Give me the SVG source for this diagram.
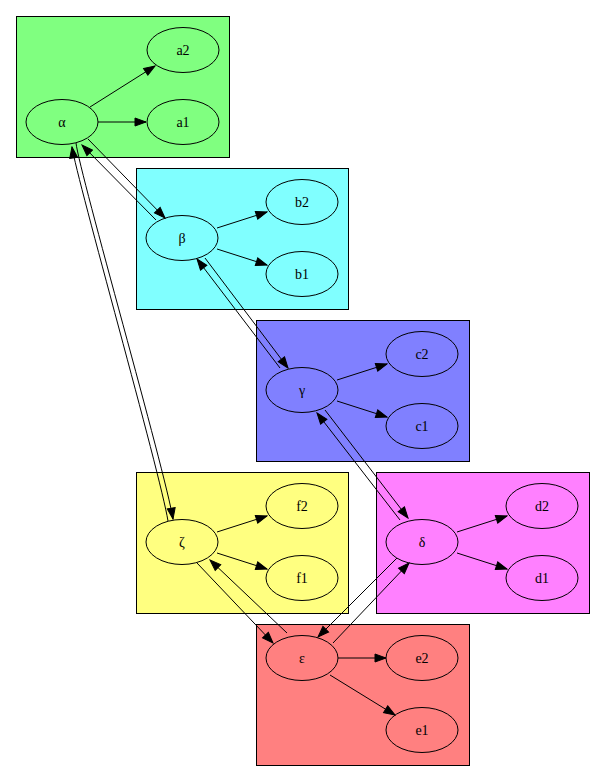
<svg xmlns="http://www.w3.org/2000/svg" width="605" height="781" viewBox="0 0 605 781">
<style>
.cl{stroke:#000;stroke-width:1}
.nd ellipse{stroke:#000;stroke-width:1}
.nd text{font-family:"Liberation Serif","DejaVu Serif",serif;font-size:14px;text-anchor:middle;fill:#000}
.e{fill:none;stroke:#000;stroke-width:1;marker-end:url(#ah)}
.ga{fill:#80ff80}.gb{fill:#80ffff}.gc{fill:#8080ff}.gd{fill:#ff80ff}.ge{fill:#ff8080}.gf{fill:#ffff80}
</style>
<defs>
<marker id="ah" markerUnits="userSpaceOnUse" viewBox="-1 -1 13 10" markerWidth="13" markerHeight="10" refX="11" refY="4" orient="auto">
<path d="M0,0 L11,4 L0,8 Z" fill="#000" stroke="#000" stroke-width="1"/>
</marker>
</defs>
<rect width="605" height="781" fill="#fff"/>
<g id="cluster_a"><rect class="cl ga" x="16.5" y="16.5" width="213" height="141"/></g>
<g id="cluster_b"><rect class="cl gb" x="136.5" y="168.5" width="212" height="141"/></g>
<g id="cluster_c"><rect class="cl gc" x="256.5" y="320.5" width="213" height="141"/></g>
<g id="cluster_f"><rect class="cl gf" x="136.5" y="472.5" width="212" height="141"/></g>
<g id="cluster_d"><rect class="cl gd" x="376.5" y="472.5" width="213" height="141"/></g>
<g id="cluster_e"><rect class="cl ge" x="256.5" y="624.5" width="213" height="141"/></g>

<g id="alpha" class="nd"><ellipse class="ga" cx="62" cy="122" rx="36" ry="22.5"/><text x="62" y="127">α</text></g>
<g id="a2" class="nd"><ellipse class="ga" cx="183" cy="50" rx="36" ry="22.5"/><text x="183" y="55">a2</text></g>
<g id="a1" class="nd"><ellipse class="ga" cx="183" cy="122" rx="36" ry="22.5"/><text x="183" y="127">a1</text></g>

<g id="beta" class="nd"><ellipse class="gb" cx="182" cy="238" rx="36" ry="22.5"/><text x="182" y="243">β</text></g>
<g id="b2" class="nd"><ellipse class="gb" cx="302" cy="202" rx="36" ry="22.5"/><text x="302" y="207">b2</text></g>
<g id="b1" class="nd"><ellipse class="gb" cx="302" cy="274" rx="36" ry="22.5"/><text x="302" y="279">b1</text></g>

<g id="gamma" class="nd"><ellipse class="gc" cx="302" cy="390" rx="36" ry="22.5"/><text x="302" y="395">γ</text></g>
<g id="c2" class="nd"><ellipse class="gc" cx="422" cy="354" rx="36" ry="22.5"/><text x="422" y="359">c2</text></g>
<g id="c1" class="nd"><ellipse class="gc" cx="422" cy="426" rx="36" ry="22.5"/><text x="422" y="431">c1</text></g>

<g id="zeta" class="nd"><ellipse class="gf" cx="182" cy="542" rx="36" ry="22.5"/><text x="182" y="547">ζ</text></g>
<g id="f2" class="nd"><ellipse class="gf" cx="302" cy="506" rx="36" ry="22.5"/><text x="302" y="511">f2</text></g>
<g id="f1" class="nd"><ellipse class="gf" cx="302" cy="578" rx="36" ry="22.5"/><text x="302" y="583">f1</text></g>

<g id="delta" class="nd"><ellipse class="gd" cx="422" cy="542" rx="36" ry="22.5"/><text x="422" y="547">δ</text></g>
<g id="d2" class="nd"><ellipse class="gd" cx="542" cy="506" rx="36" ry="22.5"/><text x="542" y="511">d2</text></g>
<g id="d1" class="nd"><ellipse class="gd" cx="542" cy="578" rx="36" ry="22.5"/><text x="542" y="583">d1</text></g>

<g id="epsilon" class="nd"><ellipse class="ge" cx="302" cy="658" rx="36" ry="22.5"/><text x="302" y="663">ε</text></g>
<g id="e2" class="nd"><ellipse class="ge" cx="422" cy="658" rx="36" ry="22.5"/><text x="422" y="663">e2</text></g>
<g id="e1" class="nd"><ellipse class="ge" cx="422" cy="730" rx="36" ry="22.5"/><text x="422" y="735">e1</text></g>

<g id="connectors">
<path class="e" d="M90,107 L155,66"/>
<path class="e" d="M98,122 L146,122"/>
<path class="e" d="M217,228 L267,212"/>
<path class="e" d="M217,249 L267,265"/>
<path class="e" d="M337,380 L387,364"/>
<path class="e" d="M337,401 L387,417"/>
<path class="e" d="M217,532 L267,516"/>
<path class="e" d="M217,553 L267,569"/>
<path class="e" d="M457,532 L507,516"/>
<path class="e" d="M457,553 L507,569"/>
<path class="e" d="M338,658 L386,658"/>
<path class="e" d="M330,675 L395,715"/>
<path class="e" d="M88,139 L165,218"/>
<path class="e" d="M156,220 L82,145"/>
<path class="e" d="M205,258 L288,368"/>
<path class="e" d="M280,368 L197,259"/>
<path class="e" d="M325,410 L408,518"/>
<path class="e" d="M400,520 L317,413"/>
<path class="e" d="M197,563 L273,643"/>
<path class="e" d="M287,633 L210,560"/>
<path class="e" d="M333,643 L409,563"/>
<path class="e" d="M397,558 L318,637"/>
<path class="e" d="M76,143 C80,175 165,470 173,519"/>
<path class="e" d="M168,521 C160,472 77,180 72,147"/>
</g>
</svg>
